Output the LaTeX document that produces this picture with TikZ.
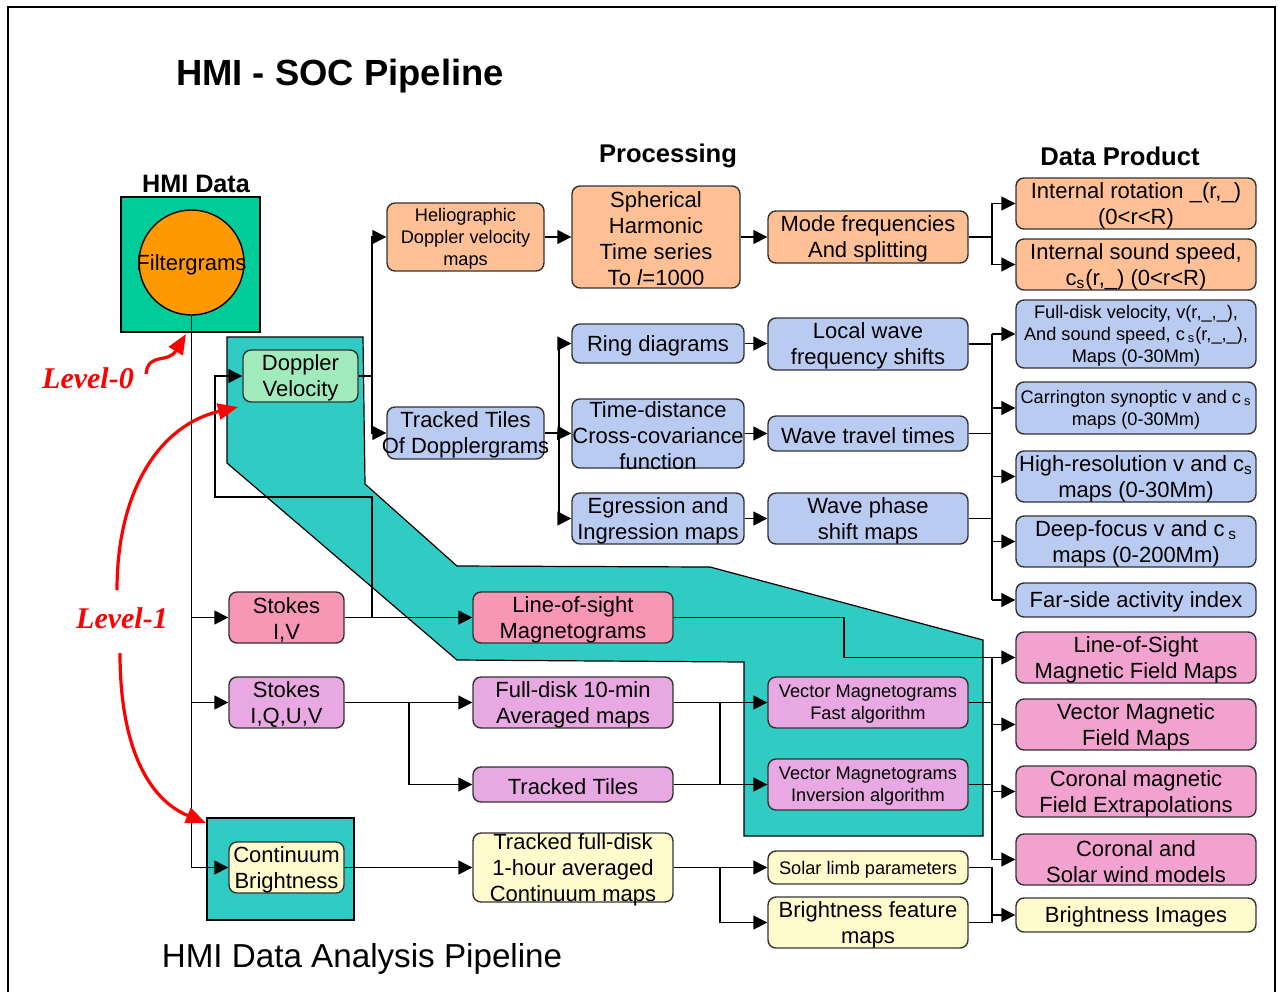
\documentclass[tikz,border=0pt]{standalone}
\usepackage{fontspec}
\setmainfont{Liberation Sans}
\newfontfamily\lvlfont{Liberation Serif}
\usetikzlibrary{arrows.meta}
\definecolor{hmigreen}{HTML}{00CC99}
\definecolor{filtor}{HTML}{FF9900}
\definecolor{peach}{HTML}{FFC096}
\definecolor{lblue}{HTML}{BACBF2}
\definecolor{spink}{HTML}{F896B6}
\definecolor{viol}{HTML}{E8A8E2}
\definecolor{dpink}{HTML}{F2A2CE}
\definecolor{lyel}{HTML}{FFFBCC}
\definecolor{dvgreen}{HTML}{A0EABC}
\definecolor{tealb}{HTML}{30CCC4}
\newcommand\bx[8]{%
  \pgfmathsetmacro\bxw{(#4-#2)*0.5}%
  \pgfmathsetmacro\bxh{(#5-#3)*0.5}%
  \node[#6, minimum width=\bxw pt, minimum height=\bxh pt,
        label={[#7, align=center, inner sep=0pt, yshift=-1pt]center:{#8}}]
        (#1) at ({(#2+#4)/2},{(#3+#5)/2}) {};}
\begin{document}
\begin{tikzpicture}[x=0.5pt,y=-0.5pt,
  rbox/.style={rectangle, draw=black!80, line width=0.7pt, rounded corners=4pt, inner sep=0pt},
  sbox/.style={rectangle, draw=black, line width=1.1pt, inner sep=0pt},
  ft/.style={font=\fontsize{11}{13}\selectfont},
  fs/.style={font=\fontsize{9.1}{11}\selectfont},
  ln/.style={line width=0.7pt},
  arr/.style={line width=0.7pt, -{Triangle[length=7pt,width=7pt]}},
  redarr/.style={red, line width=1.6pt, -{Triangle[length=10pt,width=8pt]}},
  lvl/.style={text=red, font=\lvlfont\bfseries\itshape\fontsize{15}{17}\selectfont}]
\useasboundingbox (0,0) rectangle (1279,992);
% frame
\draw[line width=1.1pt] (8,992) -- (8,7) -- (1275,7) -- (1275,992);
% titles
\node[font=\bfseries\fontsize{18.2}{20}\selectfont] (title) at (340,76) {HMI - SOC Pipeline};
\node[font=\bfseries\fontsize{12.8}{14}\selectfont] (proc) at (668,156) {Processing};
\node[font=\bfseries\fontsize{12.8}{14}\selectfont] (dprod) at (1120,156) {Data Product};
\node[font=\bfseries\fontsize{12.6}{14}\selectfont] (hmidata) at (196,184) {HMI Data};
\node[font=\fontsize{16.6}{18}\selectfont] (subt) at (362,959) {HMI Data Analysis Pipeline};
% teal band
\filldraw[fill=tealb, draw=black, line width=0.6pt] (227,337) -- (363,337) -- (365,484) -- (457,566) -- (710,567) -- (983,640) -- (983,836) -- (744,836) -- (744,662) -- (457,660) -- (227,463) -- cycle;
% HMI data box
\bx{hmibox}{121}{197}{260}{332}{sbox, fill=hmigreen}{ft}{}
\node[circle, draw, fill=filtor, line width=0.7pt, minimum size=52.5pt, inner sep=0pt,
      label={[ft, inner sep=0pt, yshift=-1pt]center:Filtergrams}] (filt) at (191.5,262.5) {};
\bx{cbox}{207}{818}{354}{920}{sbox, fill=tealb}{ft}{}
% boxes
\bx{helio}{387}{203}{544}{271}{rbox,fill=peach}{fs}{Heliographic\\Doppler velocity\\maps}
\bx{sph}{572}{186}{740}{288}{rbox,fill=peach}{ft}{Spherical\\Harmonic\\Time series\\To \textit{l}=1000}
\bx{mode}{768}{211}{968}{263}{rbox,fill=peach}{ft}{Mode frequencies\\And splitting}
\bx{ir}{1016}{178}{1256}{229}{rbox,fill=peach}{ft}{Internal rotation \_(r,\_)\\(0<r<R)}
\bx{is}{1016}{239}{1256}{290}{rbox,fill=peach}{ft}{Internal sound speed,\\c\textsubscript{s}(r,\_) (0<r<R)}
\bx{ring}{572}{324}{744}{363}{rbox,fill=lblue}{ft}{Ring diagrams}
\bx{lw}{768}{318}{968}{370}{rbox,fill=lblue}{ft}{Local wave\\frequency shifts}
\bx{ttd}{387}{407}{544}{459}{rbox,fill=lblue}{ft}{Tracked Tiles\\Of Dopplergrams}
\bx{td}{572}{399}{744}{468}{rbox,fill=lblue}{ft}{Time-distance\\Cross-covariance\\function}
\bx{wtt}{768}{416}{968}{451}{rbox,fill=lblue}{ft}{Wave travel times}
\bx{egr}{572}{493}{744}{544}{rbox,fill=lblue}{ft}{Egression and\\Ingression maps}
\bx{wps}{768}{493}{968}{544}{rbox,fill=lblue}{ft}{Wave phase\\shift maps}
\bx{fdv}{1016}{300}{1256}{368}{rbox,fill=lblue}{fs}{Full-disk velocity, v(r,\_,\_),\\And sound speed, c\,\textsubscript{s}(r,\_,\_),\\Maps (0-30Mm)}
\bx{carr}{1016}{382}{1256}{434}{rbox,fill=lblue}{fs}{Carrington synoptic v and c\,\textsubscript{s}\\maps (0-30Mm)}
\bx{hr}{1016}{451}{1256}{502}{rbox,fill=lblue}{ft}{High-resolution v and c\textsubscript{s}\\maps (0-30Mm)}
\bx{deep}{1016}{516}{1256}{567}{rbox,fill=lblue}{ft}{Deep-focus v and c\,\textsubscript{s}\\maps (0-200Mm)}
\bx{far}{1016}{583}{1256}{617}{rbox,fill=lblue}{ft}{Far-side activity index}
\bx{dv}{243}{350}{358}{402}{rbox,fill=dvgreen}{ft}{Doppler\\Velocity}
\bx{siv}{229}{592}{344}{643}{rbox,fill=spink}{ft}{Stokes\\I,V}
\bx{los}{473}{592}{673}{643}{rbox,fill=spink}{ft}{Line-of-sight\\Magnetograms}
\bx{sq}{229}{677}{344}{728}{rbox,fill=viol}{ft}{Stokes\\I,Q,U,V}
\bx{fdten}{473}{677}{673}{728}{rbox,fill=viol}{ft}{Full-disk 10-min\\Averaged maps}
\bx{tt}{473}{767}{673}{802}{rbox,fill=viol}{ft}{Tracked Tiles}
\bx{vf}{768}{677}{968}{728}{rbox,fill=viol}{fs}{Vector Magnetograms\\Fast algorithm}
\bx{vi}{768}{759}{968}{810}{rbox,fill=viol}{fs}{Vector Magnetograms\\Inversion algorithm}
\bx{lfm}{1016}{632}{1256}{683}{rbox,fill=dpink}{ft}{Line-of-Sight\\Magnetic Field Maps}
\bx{vmf}{1016}{699}{1256}{750}{rbox,fill=dpink}{ft}{Vector Magnetic\\Field Maps}
\bx{cmf}{1016}{766}{1256}{817}{rbox,fill=dpink}{ft}{Coronal magnetic\\Field Extrapolations}
\bx{csw}{1016}{834}{1256}{885}{rbox,fill=dpink}{ft}{Coronal and\\Solar wind models}
\bx{cb}{229}{842}{344}{893}{rbox,fill=lyel}{ft}{Continuum\\Brightness}
\bx{tfd}{473}{833}{673}{902}{rbox,fill=lyel}{ft}{Tracked full-disk\\1-hour averaged\\Continuum maps}
\bx{sl}{768}{851}{968}{884}{rbox,fill=lyel}{fs}{Solar limb parameters}
\bx{bf}{768}{897}{968}{948}{rbox,fill=lyel}{ft}{Brightness feature\\maps}
\bx{bi}{1016}{898}{1256}{932}{rbox,fill=lyel}{ft}{Brightness Images}
% trunk coordinates
\coordinate (xB) at (372,0);
\coordinate (xC) at (215,0);
\coordinate (xD) at (559,0);
\coordinate (xE) at (992,0);
\coordinate (xF) at (844,0);
\coordinate (xG) at (409,0);
\coordinate (xH) at (720,0);
\coordinate (yS) at (0,497);
% connectors: level-0 trunk
\draw[arr] (filt.south) |- (cb.west);
\draw[arr] (siv.west -| filt.south) -- (siv.west);
\draw[arr] (sq.west -| filt.south) -- (sq.west);
% Stokes I,V
\draw[arr] (siv.east) -- (los.west);
\draw[arr] (siv.east) -| (xB |- yS) -| (xC |- dv.west) -- (dv.west);
% Doppler
\draw[ln] (dv.east) -- (dv.east -| xB);
\draw[arr] (dv.east -| xB) |- (helio.west);
\draw[arr] (dv.east -| xB) |- (ttd.west);
\draw[arr] (helio.east) -- (sph.west);
\draw[arr] (sph.east) -- (mode.west);
\draw[ln] (mode.east) -- (mode.east -| xE);
\draw[arr] (mode.east -| xE) |- (ir.west);
\draw[arr] (mode.east -| xE) |- (is.west);
% tracked tiles of dopplergrams
\draw[ln] (ttd.east) -- (ttd.east -| xD);
\draw[arr] (ttd.east -| xD) |- (ring.west);
\draw[arr] (ttd.east -| xD) -- (td.west);
\draw[arr] (ttd.east -| xD) |- (egr.west);
\draw[arr] (ring.east) -- (lw.west |- ring.east);
\draw[arr] (td.east) -- (wtt.west);
\draw[arr] (egr.east) -- (wps.west);
\draw[ln] (lw.east) -- (lw.east -| xE);
\draw[ln] (wtt.east) -- (wtt.east -| xE);
\draw[ln] (wps.east) -- (wps.east -| xE);
\draw[ln] (fdv.west -| xE) -- (far.west -| xE);
\draw[arr] (fdv.west -| xE) -- (fdv.west);
\draw[arr] (carr.west -| xE) -- (carr.west);
\draw[arr] (hr.west -| xE) -- (hr.west);
\draw[arr] (deep.west -| xE) -- (deep.west);
\draw[arr] (far.west -| xE) -- (far.west);
% magnetic
\draw[arr] (los.east) -| (xF |- lfm.west) -- (lfm.west);
\draw[arr] (sq.east) -- (fdten.west);
\draw[arr] (sq.east -| xG) |- (tt.west);
\draw[arr] (fdten.east) -- (vf.west);
\draw[arr] (tt.east) -- (vi.west);
\draw[ln] (fdten.east -| xH) -- (tt.east -| xH);
\draw[ln] (vf.east) -- (vf.east -| xE);
\draw[ln] (vi.east) -- (vi.east -| xE);
\draw[ln] (lfm.west -| xE) -- (csw.west -| xE);
\draw[arr] (vmf.west -| xE) -- (vmf.west);
\draw[arr] (cmf.west -| xE) -- (cmf.west);
\draw[arr] (csw.west -| xE) -- (csw.west);
% continuum
\draw[arr] (cb.east) -- (tfd.west);
\draw[arr] (tfd.east) -- (sl.west);
\draw[arr] (tfd.east -| xH) |- (bf.west);
\draw[ln] (sl.east) -| (xE |- bf.east) -- (bf.east);
\draw[arr] (bi.west -| xE) -- (bi.west);
% levels
\node[lvl] (lvl0) at (88,378) {Level-0};
\node[lvl] (lvl1) at (122,618) {Level-1};
\coordinate (l0s) at (146,374);
\coordinate (l0e) at (186,334);
\coordinate (l1a) at (117,590);
\coordinate (l1b) at (238,407);
\coordinate (l1c) at (120,653);
\coordinate (l1d) at (206,823);
\draw[redarr] (l0s) .. controls (148,352) and (168,364) .. (l0e);
\draw[redarr] (l1a) .. controls (117,490) and (160,425) .. (l1b);
\draw[redarr] (l1c) .. controls (120,750) and (150,800) .. (l1d);
\end{tikzpicture}
\end{document}
